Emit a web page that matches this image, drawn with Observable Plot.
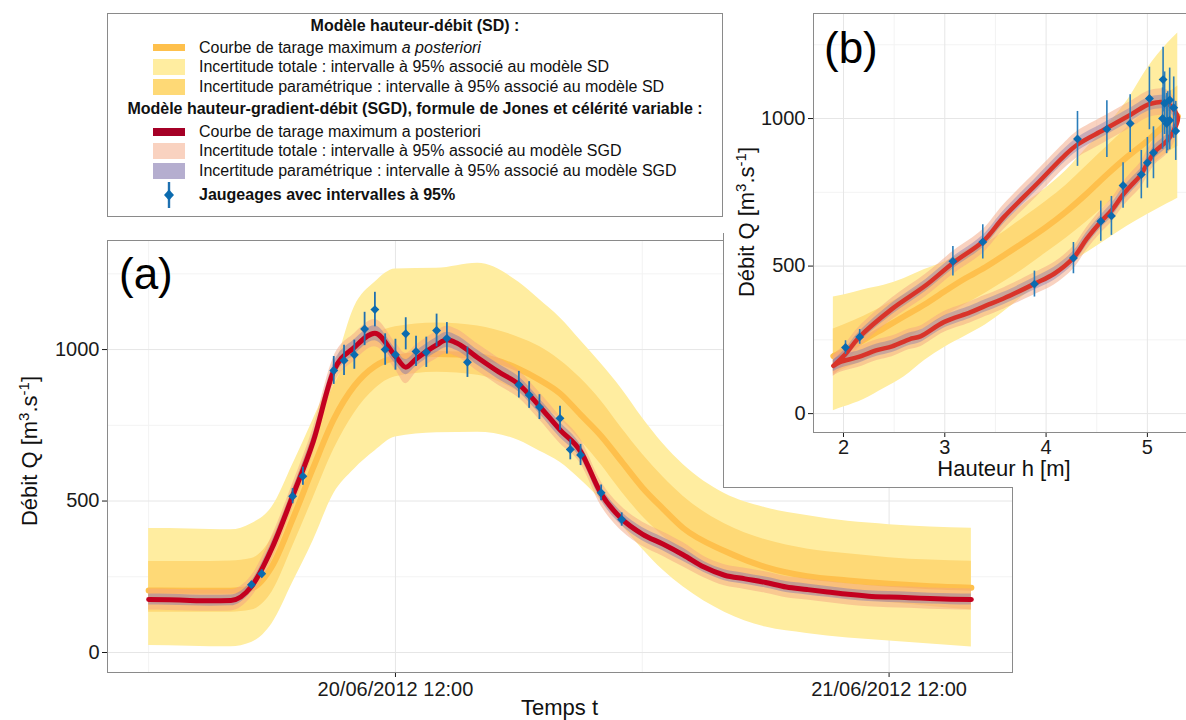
<!DOCTYPE html>
<html><head><meta charset="utf-8">
<script src="https://cdn.jsdelivr.net/npm/d3@7"></script>
<script src="https://cdn.jsdelivr.net/npm/@observablehq/plot@0.6"></script>
<style>
body{margin:0;background:#fff;font-family:"Liberation Sans",Arial,Helvetica,sans-serif;}
#root{position:relative;width:1186px;height:720px;overflow:hidden;background:#fff;}
.abs{position:absolute;}
.ttl{position:absolute;font-size:22px;line-height:22px;color:#111;white-space:nowrap;}
.ttl sup{font-size:15px;line-height:0;}
.lab{position:absolute;font-size:44px;line-height:44px;color:#000;}
#legend{position:absolute;left:107px;top:13px;width:614px;height:202px;border:1px solid #8a8a8a;background:#fff;font-size:16px;color:#111;}
#legend .row{position:absolute;height:20px;line-height:20px;white-space:nowrap;}
#legend .head{position:absolute;font-weight:bold;white-space:nowrap;transform:translateX(-50%);line-height:20px;}
#legend .sw{position:absolute;left:45px;width:32px;}
#legend .tx{left:91px;}
</style></head><body><div id="root"></div><script>
// ---------- Panel (a): time in hours since 20/06/2012 00:00 ----------
const tickHoursA = [12, 36];
const tickLabelsA = ["20/06/2012 12:00", "21/06/2012 12:00"];
const minorHoursA = [0, 24];
const yTicks = [0, 500, 1000];
const yMinor = [250, 750, 1250];

// SD model (hauteur-débit)
const tSd     = [0,2,4,5,6,7,8,9,10,11,12,14,16,18,19,20,21,22,23,24,25,26,28,30,32,34,36,38,40];
const sdMap   = [205,204,204,212,285,440,610,770,880,945,972,985,978,936,900,855,785,715,630,545,475,410,335,282,252,238,227,219,214];
const sdParHi = [300,300,302,310,380,540,720,880,990,1050,1075,1088,1078,1040,1010,965,905,830,740,655,580,515,425,372,342,326,313,305,301];
const sdParLo = [133,133,133,140,200,350,510,670,790,870,910,925,915,860,820,770,700,620,530,450,385,330,258,218,195,178,165,152,140];
const sdTotHi = [409,408,405,425,480,620,769,930,1140,1222,1266,1268,1285,1222,1165,1105,1030,953,870,775,690,620,525,478,452,433,422,414,410];
const sdTotLo = [23,21,19,33,95,230,369,524,605,665,711,725,727,700,665,628,570,502,420,342,272,216,133,84,63,48,38,28,18];

// SGD model (hauteur-gradient-débit)
const tSgd     = [0,1,2,3,4,5,6,7,8,9,10,11,12,12.5,13,14,14.5,15,16,17,18,19,20,21,22,23,24,25,26,27,28,29,30,31,32,33,34,35,36,37,38,39,40];
const sgdMap   = [175,174,172,171,172,218,345,516,696,930,1007,1054,978,942,969,1015,1032,1021,973,927,885,813,735,664,524,441,391,358,322,282,255,243,231,216,208,200,192,186,183,181,178,176,175];
const sgdTotLo = [140,139,137,136,137,183,305,476,656,885,962,1009,933,887,924,970,987,976,928,882,840,768,690,624,484,401,351,318,282,247,220,208,196,181,173,165,157,151,148,146,143,141,140];
const sgdTotHi = [210,209,207,206,207,253,385,556,741,975,1052,1099,1023,987,1014,1060,1077,1066,1018,972,930,858,780,704,564,481,431,398,362,317,290,278,266,251,243,235,227,221,218,216,213,211,210];
const sgdParLo = [157,156,154,153,154,200,323,494,671,905,982,1029,953,917,944,990,1007,996,948,902,860,788,710,642,502,419,369,336,300,264,237,225,213,198,190,182,174,168,165,163,160,158,157];
const sgdParHi = [193,192,190,189,190,236,367,538,721,955,1032,1079,1003,967,994,1040,1057,1046,998,952,910,838,760,686,546,463,413,380,344,300,273,261,249,234,226,218,210,204,201,199,196,194,193];

// Gaugings (jaugeages)
const gT    = [5,5.5,7,7.5,9,9.5,10,10.5,11,11.5,12,12.5,13,13.5,14,14.5,15.5,18,18.5,19,20,20.5,21,22,23];
const gQ    = [224,260,516,582,931,964,983,1068,1132,1000,983,1052,994,991,1063,1037,958,884,850,810,773,670,652,527,439];
const gH    = [2.02,2.16,3.08,3.375,4.31,4.60,4.83,5.02,5.155,5.15,5.19,5.17,5.22,5.20,5.22,5.26,5.28,5.06,5.00,4.94,4.76,4.645,4.54,4.27,3.885];
const gErrA = [11,13,25,30,46,50,48,55,57,52,51,53,50,50,54,52,50,44,44,41,40,34,35,26,22];
const gErrB = [23,25,50,58,93,96,98,106,110,104,102,106,100,100,108,104,100,88,86,82,77,66,68,53,44];

// ---------- Panel (b): rating curves vs height ----------
const xTicksB = [2, 3, 4, 5];
const xMinorB = [2.5, 3.5, 4.5];
const hB       = [1.9,2.0,2.2,2.4,2.6,2.8,3.0,3.2,3.4,3.6,3.8,4.0,4.2,4.4,4.6,4.8,5.0,5.2,5.3];
const sdMapB   = [195,212,250,290,330,370,415,458,496,540,585,632,685,745,810,870,925,985,1008];
const sdTotHiB = [395,402,420,435,458,488,515,550,595,655,715,765,825,900,975,1060,1170,1255,1290];
const sdTotLoB = [10,22,48,85,125,180,225,262,300,350,405,455,500,545,590,635,675,712,730];
const sdParHiB = [287,300,330,365,402,440,485,530,575,620,670,720,775,840,905,970,1030,1085,1110];
const sdParLoB = [134,150,180,215,250,290,330,370,408,450,495,545,595,650,710,770,830,885,905];

// SGD hysteresis loop: rising branch then falling branch
const hUp     = [1.90,2.02,2.15,2.48,2.81,3.09,3.375,3.58,3.91,4.175,4.31,4.57,4.83,5.03,5.195,5.30];
const qUp     = [162,202,257,355,434,513,583,665,779,872,912,962,1012,1050,1052,1005];
const upTotLo = [127,167,222,318,396,474,543,623,736,829,867,917,967,1005,1007,960];
const upTotHi = [197,237,292,392,472,552,623,707,822,915,957,1007,1057,1095,1097,1050];
const upParLo = [144,184,239,335,414,493,562,643,756,849,889,939,989,1027,1029,982];
const upParHi = [180,220,275,375,454,533,604,687,802,895,935,985,1035,1073,1075,1028];
const hDn     = [5.30,5.29,5.195,5.08,5.00,4.93,4.83,4.75,4.65,4.54,4.40,4.27,4.08,3.885,3.58,3.40,3.25,2.99,2.76,2.65,2.48,2.33,2.15,1.97,1.90];
const qDn     = [1005,982,925,890,848,807,770,738,690,650,592,528,474,440,390,365,343,310,262,252,228,215,192,175,162];
const dnTotLo = [960,937,880,846,804,764,728,697,650,611,554,490,436,403,354,329,307,275,227,217,193,180,157,140,127];
const dnTotHi = [1050,1027,970,934,892,850,812,779,730,689,630,566,512,477,426,401,379,345,297,287,263,250,227,210,197];
const dnParLo = [982,959,902,867,825,785,747,715,667,628,570,506,452,419,369,344,322,289,241,231,207,194,171,154,142];
const dnParHi = [1028,1005,948,913,871,829,793,761,713,672,614,550,496,461,411,386,364,331,283,273,249,236,213,196,182];

// Legend texts
const legendHeadSD  = "Modèle hauteur-débit (SD) :";
const legendSD      = ["Courbe de tarage maximum <i>a posteriori</i>",
                       "Incertitude totale : intervalle à 95% associé au modèle SD",
                       "Incertitude paramétrique : intervalle à 95% associé au modèle SD"];
const legendHeadSGD = "Modèle hauteur-gradient-débit (SGD), formule de Jones et célérité variable :";
const legendSGD     = ["Courbe de tarage maximum a posteriori",
                       "Incertitude totale : intervalle à 95% associé au modèle SGD",
                       "Incertitude paramétrique : intervalle à 95% associé au modèle SGD"];
const legendGaug    = "Jaugeages avec intervalles à 95%";

// ---------- colours ----------
const C = {
  sdTot: "#FFEDA0", sdPar: "#FED976", sdLine: "#FEC04C",
  sgdTot: "#F4A582", sgdPar: "#8073AC", sgdLineA: "#C4001F", sgdLineB: "#D9342A",
  gaug: "#0B6BAF", gaugBar: "#1F70B0", frame: "#8a8a8a", grid: "#e6e6e6", gridMinor: "#f3f3f3"
};
const FONT = '"Liberation Sans", Arial, Helvetica, sans-serif';

const rowsSd  = tSd.map((t,i)=>({t, m: sdMap[i], pLo: sdParLo[i], pHi: sdParHi[i], tLo: sdTotLo[i], tHi: sdTotHi[i]}));
const rowsSgd = tSgd.map((t,i)=>({t, m: sgdMap[i], pLo: sgdParLo[i], pHi: sgdParHi[i], tLo: sgdTotLo[i], tHi: sgdTotHi[i]}));
const gaug    = gT.map((t,i)=>({t, h: gH[i], q: gQ[i], ea: gErrA[i], eb: gErrB[i]}));
const rowsB   = hB.map((h,i)=>({h, m: sdMapB[i], pLo: sdParLoB[i], pHi: sdParHiB[i], tLo: sdTotLoB[i], tHi: sdTotHiB[i]}));
const loopBands = [
  ...hUp.map((h,i)=>({br:"up", h, tLo: upTotLo[i], tHi: upTotHi[i], pLo: upParLo[i], pHi: upParHi[i]})),
  ...hDn.map((h,i)=>({br:"dn", h, tLo: dnTotLo[i], tHi: dnTotHi[i], pLo: dnParLo[i], pHi: dnParHi[i]}))
];
const loopLine = [...hUp.map((h,i)=>({h, q: qUp[i]})), ...hDn.slice(1).map((h,i)=>({h, q: qDn[i+1]}))];

const root = document.getElementById("root");
function place(el, left, top){ const d=document.createElement("div"); d.className="abs"; d.style.left=left+"px"; d.style.top=top+"px"; d.appendChild(el); root.appendChild(d); return d; }
const plain = d => String(d);

// ---------- Panel (a) ----------
const plotA = Plot.plot({
  width: 1030, height: 490,
  marginLeft: 107, marginRight: 18, marginTop: 10, marginBottom: 48,
  style: {fontFamily: FONT, fontSize: "20px", color: "#1a1a1a", background: "transparent", maxWidth: "none"},
  x: {domain: [-2, 42], ticks: tickHoursA, tickFormat: d => tickLabelsA[tickHoursA.indexOf(d)], tickSize: 5, tickPadding: 4, label: null},
  y: {domain: [-66, 1360], ticks: yTicks, tickFormat: plain, tickSize: 5, tickPadding: 3, label: null},
  marks: [
    Plot.ruleY(yMinor, {stroke: C.gridMinor}),
    Plot.ruleX(minorHoursA, {stroke: C.gridMinor}),
    Plot.ruleY(yTicks, {stroke: C.grid}),
    Plot.ruleX(tickHoursA, {stroke: C.grid}),
    Plot.areaY(rowsSd, {x: "t", y1: "tLo", y2: "tHi", fill: C.sdTot, curve: "monotone-x"}),
    Plot.areaY(rowsSd, {x: "t", y1: "pLo", y2: "pHi", fill: C.sdPar, curve: "monotone-x"}),
    Plot.lineY(rowsSd, {x: "t", y: "m", stroke: C.sdLine, strokeWidth: 6, curve: "monotone-x"}),
    Plot.areaY(rowsSgd, {x: "t", y1: "tLo", y2: "tHi", fill: C.sgdTot, fillOpacity: 0.5, curve: "monotone-x"}),
    Plot.areaY(rowsSgd, {x: "t", y1: "pLo", y2: "pHi", fill: C.sgdPar, fillOpacity: 0.45, curve: "monotone-x"}),
    Plot.lineY(rowsSgd, {x: "t", y: "m", stroke: C.sgdLineA, strokeWidth: 5, curve: "monotone-x", strokeLinejoin: "round"}),
    Plot.ruleX(gaug, {x: "t", y1: d => d.q - d.ea, y2: d => d.q + d.ea, stroke: C.gaugBar, strokeWidth: 1.8}),
    Plot.dot(gaug, {x: "t", y: "q", symbol: "diamond2", r: 4, fill: C.gaug, stroke: "none"}),
    Plot.frame({stroke: C.frame})
  ]
});
place(plotA, 0, 230);

// inset background box
const inset = document.createElement("div");
inset.className = "abs";
Object.assign(inset.style, {left: "723px", top: "0px", width: "470px", height: "487px", background: "#fff"});
root.appendChild(inset);
const vline = document.createElement("div"); vline.className="abs";
Object.assign(vline.style, {left: "723px", top: "233px", width: "1px", height: "255px", background: C.frame});
root.appendChild(vline);
const hline = document.createElement("div"); hline.className="abs";
Object.assign(hline.style, {left: "723px", top: "487px", width: "289px", height: "1px", background: C.frame});
root.appendChild(hline);

// ---------- Panel (b) ----------
const plotB = Plot.plot({
  width: 480, height: 487,
  marginLeft: 90, marginRight: 8.5, marginTop: 13, marginBottom: 55,
  style: {fontFamily: FONT, fontSize: "20px", color: "#1a1a1a", background: "transparent", maxWidth: "none"},
  x: {domain: [1.704, 5.47], ticks: xTicksB, tickFormat: plain, tickSize: 5, tickPadding: 2, label: null},
  y: {domain: [-64, 1356], ticks: yTicks, tickFormat: plain, tickSize: 5, tickPadding: 3, label: null},
  marks: [
    Plot.ruleY(yMinor, {stroke: C.gridMinor}),
    Plot.ruleX(xMinorB, {stroke: C.gridMinor}),
    Plot.ruleY(yTicks, {stroke: C.grid}),
    Plot.ruleX(xTicksB, {stroke: C.grid}),
    Plot.areaY(rowsB, {x: "h", y1: "tLo", y2: "tHi", fill: C.sdTot, curve: "monotone-x"}),
    Plot.areaY(rowsB, {x: "h", y1: "pLo", y2: "pHi", fill: C.sdPar, curve: "monotone-x"}),
    Plot.lineY(rowsB, {x: "h", y: "m", stroke: C.sdLine, strokeWidth: 6, curve: "monotone-x"}),
    Plot.areaY(loopBands, {x: "h", y1: "tLo", y2: "tHi", z: "br", fill: C.sgdTot, fillOpacity: 0.5, curve: "catmull-rom"}),
    Plot.areaY(loopBands, {x: "h", y1: "pLo", y2: "pHi", z: "br", fill: C.sgdPar, fillOpacity: 0.4, curve: "catmull-rom"}),
    Plot.line(loopLine, {x: "h", y: "q", stroke: C.sgdLineB, strokeWidth: 4.5, curve: "catmull-rom", strokeLinejoin: "round"}),
    Plot.ruleX(gaug, {x: "h", y1: d => d.q - d.eb, y2: d => d.q + d.eb, stroke: "#2A7DBA", strokeWidth: 1.6}),
    Plot.dot(gaug, {x: "h", y: "q", symbol: "diamond2", r: 4, fill: C.gaug, stroke: "none"}),
    Plot.frame({stroke: C.frame})
  ]
});
place(plotB, 723, 0);

// ---------- titles and panel labels ----------
function addText(cls, html, styles){ const d=document.createElement("div"); d.className=cls; d.innerHTML=html; Object.assign(d.style, styles); root.appendChild(d); return d; }
addText("ttl", "Temps t", {left: "107px", top: "697px", width: "905px", textAlign: "center"});
addText("ttl", "Hauteur h [m]", {left: "813px", top: "458px", width: "382px", textAlign: "center"});
const yTitle = "Débit Q [m<sup>3</sup>.s<sup>-1</sup>]";
addText("ttl", yTitle, {left: "30px", top: "451px", transform: "translate(-50%,-50%) rotate(-90deg)"});
addText("ttl", yTitle, {left: "747px", top: "222px", transform: "translate(-50%,-50%) rotate(-90deg)"});
addText("lab", "(a)", {left: "119px", top: "252px"});
addText("lab", "(b)", {left: "824px", top: "26px"});

// ---------- legend ----------
const lg = document.createElement("div"); lg.id = "legend"; root.appendChild(lg);
function lgHead(txt, cy){ const d=document.createElement("div"); d.className="head"; d.textContent=txt; d.style.left="307px"; d.style.top=(cy-10)+"px"; lg.appendChild(d); }
function lgRow(html, cy, sw){
  const sd=document.createElement("div"); sd.className="sw"; Object.assign(sd.style, sw.style); sd.style.top=(cy - sw.h/2)+"px"; sd.style.height=sw.h+"px"; lg.appendChild(sd);
  const t=document.createElement("div"); t.className="row tx"; t.innerHTML=html; t.style.top=(cy-10)+"px"; lg.appendChild(t);
}
// positions relative to the legend box content (box top = 14)
lgHead(legendHeadSD, 11.5);
lgRow(legendSD[0], 33.5, {h: 7, style: {background: C.sdLine}});
lgRow(legendSD[1], 53, {h: 16, style: {background: C.sdTot}});
lgRow(legendSD[2], 72.5, {h: 16, style: {background: C.sdPar}});
lgHead(legendHeadSGD, 95);
lgRow(legendSGD[0], 117.5, {h: 8, style: {background: "#A50026"}});
lgRow(legendSGD[1], 137, {h: 16, style: {background: "rgba(244,165,130,0.5)"}});
lgRow(legendSGD[2], 156.5, {h: 16, style: {background: "rgba(128,115,172,0.58)"}});
// gauging key
const gk = document.createElementNS("http://www.w3.org/2000/svg","svg");
gk.setAttribute("width","28"); gk.setAttribute("height","28");
gk.style.position="absolute"; gk.style.left="47px"; gk.style.top="167px";
gk.innerHTML = '<line x1="14" x2="14" y1="1" y2="27" stroke="'+C.gaugBar+'" stroke-width="2.4"/><path d="M14 8.5 L19 14 L14 19.5 L9 14 Z" fill="'+C.gaug+'"/>';
lg.appendChild(gk);
const gt=document.createElement("div"); gt.className="row tx"; gt.style.fontWeight="bold"; gt.textContent=legendGaug; gt.style.top=(181-10)+"px"; lg.appendChild(gt);
</script></body></html>
